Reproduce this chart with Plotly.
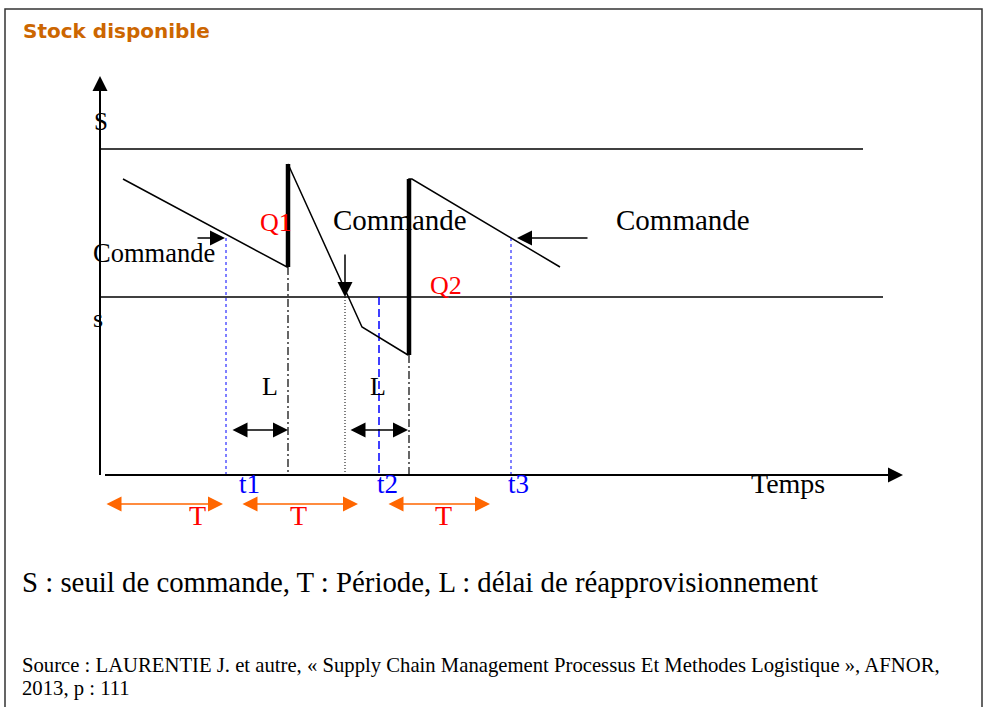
import plotly.graph_objects as go

# ---- coordinate frame: time (x) and stock (y), origin at axis crossing ----
X_RANGE = [-100, 889]
Y_RANGE = [-232, 475]

# Stock level path (time, stock)
stock_t = [23, 187, 188, 262, 308, 309, 312, 460]
stock_q = [296, 208, 311, 148, 120, 296, 296, 208]

# Replenishments (thick bars): time, from level, to level
repl_t = [188, 309]
repl_lo = [208, 120]
repl_hi = [311, 296]
repl_labels = ["Q1", "Q2"]
repl_label_t = [176, 346]
repl_label_q = [253, 190]

# Levels
level_S = 326
level_s = 178
level_S_end = 763
level_s_end = 783

# Order times (t1, t3 dotted blue), t2 dashed blue, crossing dotted black
order_t = [126, 411]
order_q = [237, 237]
t2_time = 279
cross_time = 245
tick_labels = ["t1", "t2", "t3"]
tick_t = [149, 287, 418]

# Lead-time (L) arrows
L_start = [131, 249]
L_end = [188, 308]
L_level = 45
L_label_t = [170, 278]
L_label_q = 89

# Period (T) arrows
T_start = [5, 141, 287]
T_end = [123, 258, 390]
T_level = -29
T_label_t = [97, 198, 343]
T_label_q = -40

# "Commande" labels
cmd_labels = ["Commande", "Commande", "Commande"]
cmd_label_t = [54, 300, 583]
cmd_label_q = [222, 255, 255]
cmd_label_size = [26.5, 29, 29]

fig = go.Figure()

serif = "Liberation Serif, Times New Roman, serif"

# Levels S and s
fig.add_trace(go.Scatter(x=[0, level_S_end], y=[level_S, level_S], mode="lines",
                         line=dict(color="black", width=1.5), hoverinfo="skip"))
fig.add_trace(go.Scatter(x=[0, level_s_end], y=[level_s, level_s], mode="lines",
                         line=dict(color="black", width=1.5), hoverinfo="skip"))

# vertical reference lines
for t, q in zip(order_t, order_q):
    fig.add_trace(go.Scatter(x=[t, t], y=[q, 0], mode="lines",
                             line=dict(color="blue", width=1, dash="dot"), hoverinfo="skip"))
fig.add_trace(go.Scatter(x=[t2_time, t2_time], y=[level_s, 0], mode="lines",
                         line=dict(color="blue", width=1.5, dash="8px,4px"), hoverinfo="skip"))
fig.add_trace(go.Scatter(x=[cross_time, cross_time], y=[level_s, 0], mode="lines",
                         line=dict(color="black", width=1, dash="1px,2px"), hoverinfo="skip"))
for t, lo in zip(repl_t, repl_lo):
    fig.add_trace(go.Scatter(x=[t, t], y=[lo, 0], mode="lines",
                             line=dict(color="black", width=1.2, dash="8px,3px,2px,3px"),
                             hoverinfo="skip"))

# stock path
fig.add_trace(go.Scatter(x=stock_t, y=stock_q, mode="lines",
                         line=dict(color="black", width=1.5), hoverinfo="skip"))
# replenishment bars
for t, lo, hi in zip(repl_t, repl_lo, repl_hi):
    fig.add_trace(go.Scatter(x=[t, t], y=[lo, hi], mode="lines",
                             line=dict(color="black", width=4.5), hoverinfo="skip"))

# axes lines
fig.add_trace(go.Scatter(x=[0, 0], y=[0, 395], mode="lines",
                         line=dict(color="black", width=2), hoverinfo="skip"))
fig.add_trace(go.Scatter(x=[5, 795], y=[0, 0], mode="lines",
                         line=dict(color="black", width=2), hoverinfo="skip"))

ann = []


def arrow(x0, y0, x1, y1, color="black", both=False, width=1.5, size=2):
    ann.append(dict(x=x1, y=y1, ax=x0, ay=y0, xref="x", yref="y", axref="x", ayref="y",
                    showarrow=True, arrowhead=2, arrowsize=size, arrowwidth=width,
                    arrowcolor=color, text="", arrowside="end+start" if both else "end",
                    startarrowhead=2, startarrowsize=size))


# axis arrowheads
arrow(0, 380, 0, 399, width=1.5, size=2)
arrow(780, 0, 803, 0, width=1.5, size=2)

# Commande arrows
arrow(96, 237, 125, 237)
arrow(245, 222, 245, 178)
arrow(489, 237, 417, 237)

# L arrows
for a, b in zip(L_start, L_end):
    arrow(a, L_level, b, L_level, both=True)
# T arrows
for a, b in zip(T_start, T_end):
    arrow(a, T_level, b, T_level, color="#FF6600", both=True)


def label(t, q, text, size, color="black", family=serif, anchor="center"):
    ann.append(dict(x=t, y=q, text=text, showarrow=False, xref="x", yref="y",
                    font=dict(family=family, size=size, color=color), xanchor=anchor,
                    yanchor="middle"))


label(1, 354, "S", 25)
label(-2, 157, "s", 26)
for t, q, txt, sz in zip(cmd_label_t, cmd_label_q, cmd_labels, cmd_label_size):
    label(t, q, txt, sz)
for t, q, txt in zip(repl_label_t, repl_label_q, repl_labels):
    label(t, q, txt, 26, color="red")
for t in L_label_t:
    label(t, L_label_q, "L", 26)
for t, txt in zip(tick_t, tick_labels):
    label(t, -9, txt, 27, color="blue")
label(688, -8, "Temps", 28)
for t in T_label_t:
    label(t, T_label_q, "T", 28, color="red")

# page texts (paper coords)
ann.append(dict(x=21 / 989, y=1 - 31 / 707, xref="paper", yref="paper", text="<b>Stock disponible</b>",
                showarrow=False, xanchor="left", yanchor="middle",
                font=dict(family="DejaVu Sans, Verdana, sans-serif", size=20, color="#CC6600")))
ann.append(dict(x=20 / 989, y=1 - 582 / 707, xref="paper", yref="paper",
                text="S : seuil de commande, T : Période, L : délai de réapprovisionnement",
                showarrow=False, xanchor="left", yanchor="middle",
                font=dict(family=serif, size=28.8, color="black")))
ann.append(dict(x=20 / 989, y=1 - 665 / 707, xref="paper", yref="paper",
                text="Source : LAURENTIE J. et autre, « Supply Chain Management Processus Et Methodes Logistique », AFNOR,",
                showarrow=False, xanchor="left", yanchor="middle",
                font=dict(family=serif, size=20.7, color="black")))
ann.append(dict(x=20 / 989, y=1 - 688 / 707, xref="paper", yref="paper",
                text="2013, p : 111",
                showarrow=False, xanchor="left", yanchor="middle",
                font=dict(family=serif, size=20.7, color="black")))

shapes = [dict(type="rect", xref="paper", yref="paper", x0=5 / 989, x1=982 / 989,
               y0=-0.05, y1=1 - 9 / 707, line=dict(color="#333333", width=1.5))]

fig.update_layout(
    width=989, height=707, margin=dict(l=0, r=0, t=0, b=0),
    paper_bgcolor="white", plot_bgcolor="white", showlegend=False,
    xaxis=dict(range=X_RANGE, visible=False, fixedrange=True),
    yaxis=dict(range=Y_RANGE, visible=False, fixedrange=True),
    annotations=ann, shapes=shapes,
)

fig.write_html("out.html", config={"displayModeBar": False},
               post_script="document.body.style.margin='0';")
